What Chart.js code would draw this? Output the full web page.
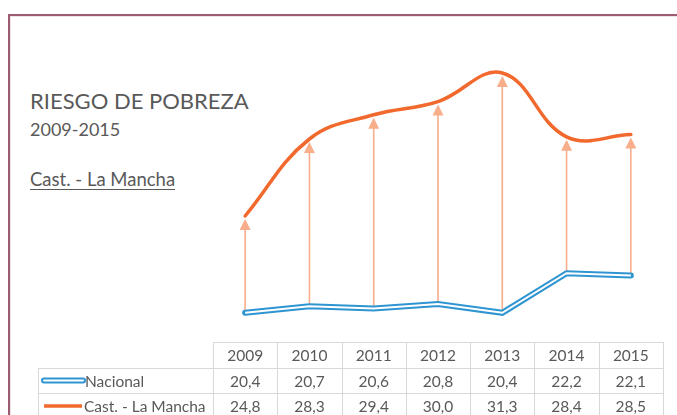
<!DOCTYPE html>
<html>
<head>
<meta charset="utf-8">
<script src="https://cdn.jsdelivr.net/npm/chart.js@4.4.1/dist/chart.umd.min.js"></script>
<style>
    body { margin: 0; width: 677px; height: 415px; overflow: hidden; background: #fff; position: relative; font-family: Lato, "Open Sans", sans-serif; }
    #frame { position: absolute; left: 8px; top: 14px; width: 700px; height: 430px; border-top: 2px solid #9c5b70; border-left: 2px solid #9c5b70; box-shadow: inset 1px 1px 0 #ece4e7; }
    .txt { position: absolute; left: 30px; color: #595959; white-space: nowrap; }
    #title { top: 87px; font-size: 22px; }
    #years { top: 118px; font-size: 18px; }
    #region { top: 168px; font-size: 18.5px; text-decoration: underline; text-underline-offset: 3px; }
    canvas { position: absolute; left: 0; top: 0; }
</style>
</head>
<body>
<div id="frame"></div>
<div class="txt" id="title">RIESGO DE POBREZA</div>
<div class="txt" id="years">2009-2015</div>
<div class="txt" id="region">Cast. - La Mancha</div>
<canvas id="pobreza" width="677" height="415"></canvas>
<script>
// data
const years = ["2009", "2010", "2011", "2012", "2013", "2014", "2015"];
const nacional = [20.4, 20.7, 20.6, 20.8, 20.4, 22.2, 22.1];
const castLaMancha = [24.8, 28.3, 29.4, 30.0, 31.3, 28.4, 28.5];
const seriesNames = ["Nacional", "Cast. - La Mancha"];

const blue = "#2f95d2";
const orange = "#f2692d";
const arrowColor = "#f8ad8b";
const textColor = "#595959";
const gridColor = "#d9d9d9";

function fmt(v) {
    return v.toFixed(1).replace(".", ",");
}

// vertical arrows from Nacional up to Cast. - La Mancha
const arrowsPlugin = {
    id: "arrows",
    beforeDatasetsDraw(chart) {
        const ctx = chart.ctx;
        const x = chart.scales.x;
        const y = chart.scales.y;
        ctx.save();
        ctx.strokeStyle = arrowColor;
        ctx.fillStyle = arrowColor;
        ctx.lineWidth = 1.6;
        years.forEach((yr, i) => {
            const px = x.getPixelForValue(i);
            const y0 = y.getPixelForValue(nacional[i]);
            const tip = y.getPixelForValue(castLaMancha[i]) + 3;
            ctx.beginPath();
            ctx.moveTo(px, y0);
            ctx.lineTo(px, tip + 8);
            ctx.stroke();
            ctx.beginPath();
            ctx.moveTo(px, tip);
            ctx.lineTo(px - 5.5, tip + 11);
            ctx.lineTo(px + 5.5, tip + 11);
            ctx.closePath();
            ctx.fill();
        });
        ctx.restore();
    }
};

// data table under the chart, columns follow the x scale
const tablePlugin = {
    id: "dataTable",
    afterDraw(chart) {
        const ctx = chart.ctx;
        const x = chart.scales.x;
        const half = (x.getPixelForValue(1) - x.getPixelForValue(0)) / 2;
        const colLeft = x.getPixelForValue(0) - half;
        const colRight = x.getPixelForValue(years.length - 1) + half;
        const tableLeft = 38;
        const rowTops = [342, 368, 393, 419];
        ctx.save();
        ctx.strokeStyle = gridColor;
        ctx.lineWidth = 1;
        // horizontal lines
        ctx.beginPath();
        ctx.moveTo(colLeft, rowTops[0] + 0.5);
        ctx.lineTo(colRight, rowTops[0] + 0.5);
        for (let r = 1; r < rowTops.length; r++) {
            ctx.moveTo(tableLeft, rowTops[r] + 0.5);
            ctx.lineTo(colRight, rowTops[r] + 0.5);
        }
        // vertical lines
        ctx.moveTo(tableLeft + 0.5, rowTops[1]);
        ctx.lineTo(tableLeft + 0.5, 415);
        for (let i = 0; i <= years.length; i++) {
            const px = Math.round(colLeft + i * half * 2) + 0.5;
            ctx.moveTo(px, rowTops[0]);
            ctx.lineTo(px, 415);
        }
        ctx.stroke();

        ctx.fillStyle = textColor;
        ctx.font = "15.5px Lato, 'Open Sans', sans-serif";
        ctx.textAlign = "center";
        ctx.textBaseline = "middle";
        const rows = [nacional, castLaMancha];
        years.forEach((yr, i) => {
            const px = x.getPixelForValue(i);
            ctx.fillText(yr, px, (rowTops[0] + rowTops[1]) / 2 + 1);
            rows.forEach((vals, r) => {
                ctx.fillText(fmt(vals[i]), px, (rowTops[r + 1] + rowTops[r + 2]) / 2 + 1);
            });
        });

        // row headers with legend keys
        ctx.textAlign = "left";
        ctx.lineCap = "round";
        let ky = (rowTops[1] + rowTops[2]) / 2;
        ctx.strokeStyle = blue;
        ctx.lineWidth = 6;
        ctx.beginPath(); ctx.moveTo(44, ky); ctx.lineTo(83, ky); ctx.stroke();
        ctx.strokeStyle = "#fff";
        ctx.lineWidth = 2;
        ctx.beginPath(); ctx.moveTo(44, ky); ctx.lineTo(83, ky); ctx.stroke();
        ctx.fillText(seriesNames[0], 85, ky + 1);
        ky = (rowTops[2] + rowTops[3]) / 2;
        ctx.lineCap = "butt";
        ctx.strokeStyle = orange;
        ctx.lineWidth = 3.5;
        ctx.beginPath(); ctx.moveTo(44, ky); ctx.lineTo(82, ky); ctx.stroke();
        ctx.fillText(seriesNames[1], 84, ky + 1);
        ctx.restore();
    }
};

const ctxPobreza = document.getElementById("pobreza");
new Chart(ctxPobreza, {
    type: "line",
    data: {
        labels: years,
        datasets: [{
            label: seriesNames[1],
            data: castLaMancha,
            borderColor: orange,
            borderWidth: 3.5,
            tension: 0.4,
            pointRadius: 0,
            borderCapStyle: "round",
        }, {
            label: seriesNames[0],
            data: nacional,
            borderColor: "#fff",
            borderWidth: 2,
            tension: 0,
            pointRadius: 0,
        }, {
            label: seriesNames[0] + " borde",
            data: nacional,
            borderColor: blue,
            borderWidth: 6,
            tension: 0,
            pointRadius: 0,
            borderCapStyle: "round",
        },],
    },
    options: {
        responsive: false,
        animation: false,
        layout: { padding: { left: 213, right: 14, top: 57.6, bottom: 93.4 } },
        plugins: { legend: { display: false }, tooltip: { enabled: false } },
        scales: {
            x: { display: false, offset: true },
            y: { display: false, min: 20, max: 32 },
        },
    },
    plugins: [arrowsPlugin, tablePlugin],
});
</script>
</body>
</html>
